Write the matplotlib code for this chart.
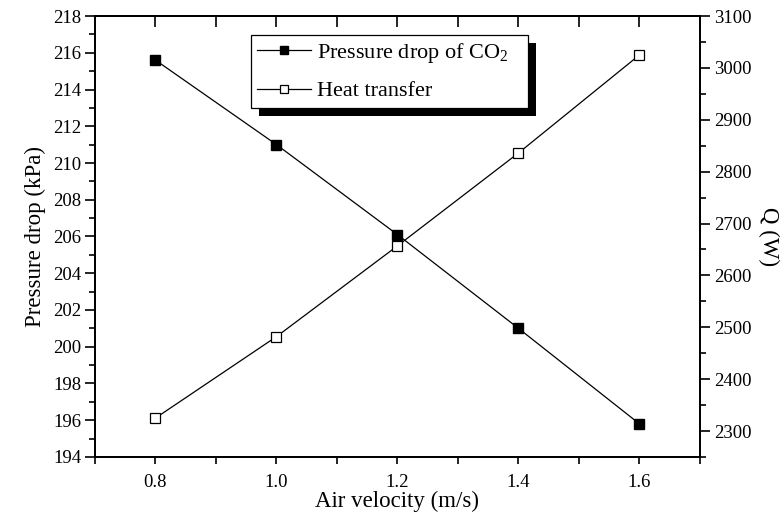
import matplotlib
matplotlib.use("Agg")
import matplotlib.pyplot as plt
import matplotlib.patheffects as pe
from matplotlib.ticker import MultipleLocator, FixedLocator

plt.rcParams['font.family'] = ['Liberation Serif', 'DejaVu Serif']
plt.rcParams['mathtext.fontset'] = 'custom'
plt.rcParams['mathtext.rm'] = 'Liberation Serif'

air_velocity = [0.8, 1.0, 1.2, 1.4, 1.6]
pressure_drop = [215.6, 211.0, 206.1, 201.0, 195.8]
heat_transfer = [2325, 2482, 2657, 2836, 3025]
x_tick_labels = ['0.8', '1.0', '1.2', '1.4', '1.6']

fig = plt.figure(figsize=(7.83, 5.2), dpi=100)
ax = fig.add_axes([0.1213, 0.1212, 0.7727, 0.848])
ax2 = ax.twinx()

l1, = ax.plot(air_velocity, pressure_drop, color='black', lw=0.9, marker='s',
              markersize=7, markerfacecolor='black', markeredgecolor='black')
l2, = ax2.plot(air_velocity, heat_transfer, color='black', lw=0.9, marker='s',
               markersize=7, markerfacecolor='white', markeredgecolor='black',
               markeredgewidth=0.9)

ax.set_xlim(0.7, 1.7)
ax.set_ylim(194, 218)
ax2.set_ylim(2250, 3100)

ax.xaxis.set_major_locator(FixedLocator(air_velocity))
ax.set_xticklabels(x_tick_labels)
ax.xaxis.set_minor_locator(MultipleLocator(0.1))
ax.yaxis.set_major_locator(MultipleLocator(2))
ax.yaxis.set_minor_locator(MultipleLocator(1))
ax2.yaxis.set_major_locator(MultipleLocator(100))
ax2.yaxis.set_minor_locator(MultipleLocator(50))

for a in (ax, ax2):
    for s in a.spines.values():
        s.set_linewidth(1.3)

ax.tick_params(axis='x', which='both', direction='out', length=5, width=1.2,
               labelsize=13.5, pad=7)
ax.tick_params(axis='y', which='major', direction='out', length=7, width=1.2,
               labelsize=13.5, pad=3)
ax.tick_params(axis='y', which='minor', direction='out', length=4, width=1.2)
ax2.tick_params(axis='y', which='major', direction='out', length=7, width=1.2,
                labelsize=13.5, pad=3)
ax2.tick_params(axis='y', which='minor', direction='out', length=4, width=1.2)

# top inward ticks
top = ax.secondary_xaxis('top')
top.xaxis.set_major_locator(MultipleLocator(0.1))
top.tick_params(axis='x', which='both', direction='in', length=8, width=1.2,
                labeltop=False)
top.spines['top'].set_linewidth(1.3)

ax.set_xlabel('Air velocity (m/s)', fontsize=16.5, labelpad=0)
ax.set_ylabel('Pressure drop (kPa)', fontsize=16.5, labelpad=5)
ax2.set_ylabel('Q (W)', fontsize=16.5, rotation=270, labelpad=20)

leg = ax2.legend([l1, l2], ['Pressure drop of CO$_\\mathrm{2}$   ', 'Heat transfer'],
                 loc='upper left', bbox_to_anchor=(0.258, 0.957), borderaxespad=0,
                 fancybox=False, framealpha=1, edgecolor='black', fontsize=16,
                 handlelength=2.4, handletextpad=0.3, borderpad=0.28,
                 labelspacing=0.7, markerscale=0.8)
leg.get_frame().set_linewidth(0.9)
leg.get_frame().set_path_effects([
    pe.SimplePatchShadow(offset=(5.8, -5.8), shadow_rgbFace='black', alpha=1),
    pe.Normal()])

fig.savefig('out.png', dpi=100)
